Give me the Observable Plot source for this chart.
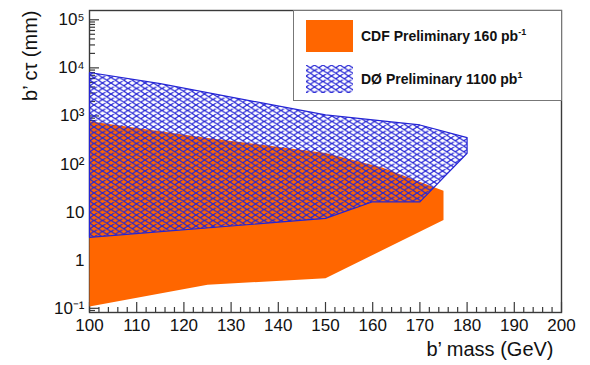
<!DOCTYPE html>
<html>
<head>
<meta charset="utf-8">
<script src="https://cdn.jsdelivr.net/npm/d3@7"></script>
<script src="https://cdn.jsdelivr.net/npm/@observablehq/plot@0.6"></script>
<style>
  html, body { margin: 0; padding: 0; background: #fff; }
  #wrap { position: relative; width: 590px; height: 365px; font-family: "Liberation Sans", Arial, Helvetica, sans-serif; }
  #legend { position: absolute; left: 293px; top: 10px; width: 267px; height: 89px; border: 1px solid #777; background: #fff; box-sizing: content-box; }
  .row { position: absolute; left: 12px; display: flex; align-items: center; }
  .row span.t { font-weight: bold; font-size: 14px; color: #111; margin-left: 8px; white-space: nowrap; }
  .row sup { font-size: 9px; vertical-align: 6px; line-height: 0; }
</style>
</head>
<body>
<div id="wrap">
  <div id="chart"></div>
  <div id="legend">
    <div class="row" style="top:9px"><svg width="47" height="32"><rect width="47" height="32" fill="#ff6600"></rect></svg><span class="t" id="lab0"></span></div>
    <div class="row" style="top:54px"><svg width="47" height="28"><rect width="47" height="28" fill="url(#dzeroHatch)"></rect></svg><span class="t" id="lab1"></span></div>
  </div>
</div>
<script>
// ---- data ----
const cdfUpperMass = [100, 125, 150, 162, 172, 175];
const cdfUpperCtau = [780, 350, 170, 85, 36, 28];
const cdfLowerMass = [175, 150, 125, 100];
const cdfLowerCtau = [6.9, 0.42, 0.31, 0.109];

const dzUpperMass = [100, 115, 150, 170, 180];
const dzUpperCtau = [8000, 4700, 1050, 650, 355];
const dzLowerMass = [180, 170, 160, 150, 100];
const dzLowerCtau = [168, 16.4, 16.4, 7.4, 3.0];

const seriesNames = ["CDF Preliminary 160 pb", "DØ Preliminary 1100 pb"];
const seriesSup = ["-1", "1"];

const xTickValues = [100, 110, 120, 130, 140, 150, 160, 170, 180, 190, 200];
const yTickValues = [0.1, 1, 10, 100, 1000, 10000, 100000];
const yTickLabels = ["10⁻¹", "1", "10", "10²", "10³", "10⁴", "10⁵"];
const xTitle = "b’ mass (GeV)";
const yTitle = "b’ cτ (mm)";

// polygons built from the boundary arrays
const cdfPoly = [
  ...cdfUpperMass.map((m, i) => ({mass: m, ctau: cdfUpperCtau[i]})),
  ...cdfLowerMass.map((m, i) => ({mass: m, ctau: cdfLowerCtau[i]}))
];
cdfPoly.push(cdfPoly[0]);
const dzPoly = [
  ...dzUpperMass.map((m, i) => ({mass: m, ctau: dzUpperCtau[i]})),
  ...dzLowerMass.map((m, i) => ({mass: m, ctau: dzLowerCtau[i]}))
];
dzPoly.push(dzPoly[0]);

const xMinor = d3.range(100, 201, 2).filter(v => !xTickValues.includes(v));
const yMinor = [];
for (let e = -2; e <= 5; e++) for (let k = 2; k <= 9; k++) {
  const v = k * Math.pow(10, e);
  if (v > 0.0818 && v < 156000) yMinor.push(v);
}

const W = 590, H = 365, mL = 89, mR = 29, mT = 10, mB = 53;
const fw = W - mL - mR, fh = H - mT - mB;
const frameColor = "#3a3a3a";
const blue = "#2424d4";

const plot = Plot.plot({
  width: W, height: H,
  marginLeft: mL, marginRight: mR, marginTop: mT, marginBottom: mB,
  style: {fontFamily: "'Liberation Sans', Arial, Helvetica, sans-serif", fontSize: "17px", color: "#111", background: "#fff"},
  x: {domain: [100, 200]},
  y: {type: "log", domain: [Math.pow(10, -1.087), Math.pow(10, 5.193)]},
  marks: [
    Plot.frame({stroke: frameColor, strokeWidth: 1.4}),
    Plot.tickX(xTickValues, {x: d => d, stroke: frameColor, strokeWidth: 1.2, insetTop: fh - 10}),
    Plot.tickX(xMinor, {x: d => d, stroke: frameColor, strokeWidth: 1.2, insetTop: fh - 5}),
    Plot.tickY(yTickValues, {y: d => d, stroke: frameColor, strokeWidth: 1.2, insetRight: fw - 10}),
    Plot.tickY(yMinor, {y: d => d, stroke: frameColor, strokeWidth: 1.2, insetRight: fw - 6}),
    Plot.line(cdfPoly, {x: "mass", y: "ctau", fill: "#ff6600", stroke: "none"}),
    Plot.line(dzPoly, {x: "mass", y: "ctau", fill: "url(#dzeroHatch)", stroke: blue, strokeWidth: 1.2}),
    Plot.axisX({ticks: xTickValues, tickFormat: d => String(d), tickSize: 0, tickPadding: 6, label: null}),
    Plot.axisY({ticks: yTickValues, tickFormat: d => yTickLabels[yTickValues.indexOf(d)], tickSize: 0, tickPadding: 5, label: null}),
    Plot.text([xTitle], {frameAnchor: "bottom-right", textAnchor: "end", dx: -8, dy: 43, fontSize: 20, fill: "#111"}),
    Plot.text([yTitle], {frameAnchor: "top-left", textAnchor: "end", rotate: -90, dx: -67, fontSize: 20, fill: "#111"})
  ]
});

// hatch pattern definition (diamond mesh, like ROOT fill style)
const svgNS = "http://www.w3.org/2000/svg";
const defs = document.createElementNS(svgNS, "defs");
defs.innerHTML = `<pattern id="dzeroHatch" patternUnits="userSpaceOnUse" width="8.5" height="5.5">
  <path d="M0,0L8.5,5.5M0,-5.5L8.5,0M0,5.5L8.5,11M0,5.5L8.5,0M0,0L8.5,-5.5M0,11L8.5,5.5" stroke="${blue}" stroke-width="1.25" fill="none"/>
</pattern>`;
plot.insertBefore(defs, plot.firstChild);
document.getElementById("chart").appendChild(plot);

// legend text
["lab0", "lab1"].forEach((id, i) => {
  const el = document.getElementById(id);
  el.textContent = seriesNames[i];
  const s = document.createElement("sup");
  s.textContent = seriesSup[i];
  el.appendChild(s);
});
</script>
</body>
</html>
